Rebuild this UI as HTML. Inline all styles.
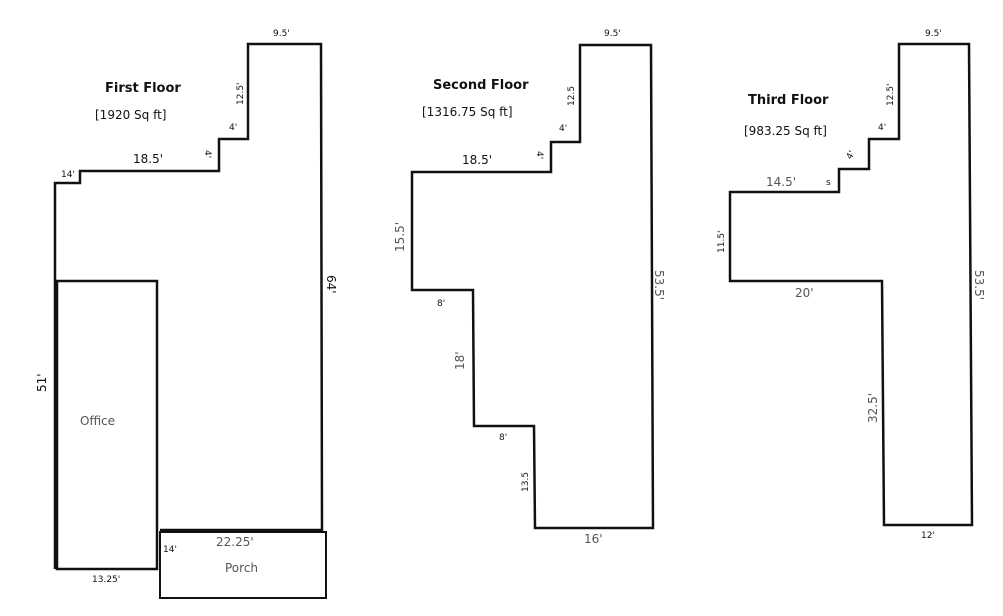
<!DOCTYPE html>
<html><head><meta charset="utf-8"><style>
html,body{margin:0;padding:0;background:#fff;}
svg{display:block;}
text{font-family:"DejaVu Sans","Liberation Sans",sans-serif;fill:#111;}
.b{font-weight:bold;font-size:13px;}
.n{font-size:12px;}
.s{font-size:9px;}
.g{fill:#555;}
</style></head><body>
<svg width="1003" height="616" viewBox="0 0 1003 616" xmlns="http://www.w3.org/2000/svg">
<g fill="none" stroke="#111" stroke-width="2.5">
<!-- First floor -->
<polyline points="55,569 55,183 80,183 80,171 219,171 219,139 248,139 248,44 321,44 322,530 160,530"/>
<rect x="57" y="281" width="100" height="288"/>
<rect x="160" y="532" width="166" height="66" stroke-width="2"/>
<!-- Second floor -->
<polygon points="580,45 651,45 653,528 535,528 534,426 474,426 473,290 412,290 412,172 551,172 551,142 580,142"/>
<!-- Third floor -->
<polygon points="899,44 969,44 972,525 884,525 882,281 730,281 730,192 839,192 839,169 869,169 869,139 899,139"/>
</g>
<!-- First floor labels -->
<text class="b" x="105" y="92">First Floor</text>
<text class="n" x="95" y="119">[1920 Sq ft]</text>
<text class="s" x="273" y="36">9.5'</text>
<text class="s" transform="translate(243,105) rotate(-90)">12.5'</text>
<text class="s" x="229" y="130">4'</text>
<text class="s" transform="translate(205,150) rotate(90)">4'</text>
<text class="n" x="133" y="163">18.5'</text>
<text class="s" x="61" y="177">14'</text>
<text class="n" transform="translate(327,275) rotate(90)">64'</text>
<text class="n" transform="translate(46,392) rotate(-90)">51'</text>
<text class="n g" x="80" y="425">Office</text>
<text class="s" x="92" y="582">13.25'</text>
<text class="n g" x="216" y="546">22.25'</text>
<text class="n g" x="225" y="572">Porch</text>
<text class="s" x="163" y="552">14'</text>
<!-- Second floor labels -->
<text class="b" x="433" y="89">Second Floor</text>
<text class="n" x="422" y="116">[1316.75 Sq ft]</text>
<text class="s" x="604" y="36">9.5'</text>
<text class="s" transform="translate(574,106) rotate(-90)">12.5</text>
<text class="s" x="559" y="131">4'</text>
<text class="s" transform="translate(537,151) rotate(90)">4'</text>
<text class="n" x="462" y="164">18.5'</text>
<text class="n g" transform="translate(404,252) rotate(-90)">15.5'</text>
<text class="s" x="437" y="306">8'</text>
<text class="n g" transform="translate(464,370) rotate(-90)">18'</text>
<text class="s" x="499" y="440">8'</text>
<text class="s" transform="translate(528,492) rotate(-90)">13.5</text>
<text class="n g" x="584" y="543">16'</text>
<text class="n g" transform="translate(655,270) rotate(90)">53.5'</text>
<!-- Third floor labels -->
<text class="b" x="748" y="104">Third Floor</text>
<text class="n" x="744" y="135">[983.25 Sq ft]</text>
<text class="s" x="925" y="36">9.5'</text>
<text class="s" transform="translate(893,106) rotate(-90)">12.5'</text>
<text class="s" x="878" y="130">4'</text>
<text class="s" transform="translate(851,160) rotate(-60)">4'</text>
<text class="n g" x="766" y="186">14.5'</text>
<text class="s" x="826" y="185">s</text>
<text class="s" transform="translate(724,253) rotate(-90)">11.5'</text>
<text class="n g" x="795" y="297">20'</text>
<text class="n g" transform="translate(877,423) rotate(-90)">32.5'</text>
<text class="s" x="921" y="538">12'</text>
<text class="n g" transform="translate(975,270) rotate(90)">53.5'</text>
</svg>
</body></html>
